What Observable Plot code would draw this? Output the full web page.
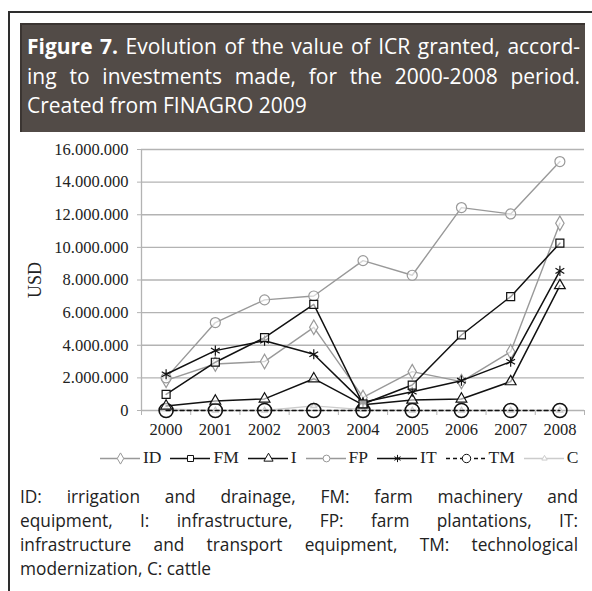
<!DOCTYPE html>
<html>
<head>
<meta charset="utf-8">
<script src="https://cdn.jsdelivr.net/npm/d3@7"></script>
<script src="https://cdn.jsdelivr.net/npm/@observablehq/plot@0.6"></script>
<style>
  html, body { margin: 0; padding: 0; background: #fff; }
  body { width: 592px; height: 591px; position: relative; overflow: hidden; }
  .frameTop { position: absolute; left: 8px; top: 11px; width: 584px; height: 2px; background: #2e2e2e; }
  .frameLeft { position: absolute; left: 8px; top: 11px; width: 2px; height: 580px; background: #2e2e2e; }
  .titlebox { position: absolute; left: 20px; top: 23px; width: 565px; height: 109px; background: #524b47;
    border-top: 2px solid #3b3532; border-left: 2px solid #3b3532; box-sizing: border-box;
    color: #fff; font-family: "Open Sans", sans-serif; font-size: 21px; line-height: 29.5px; padding: 7px 5px 0 5px; }
  .jl { text-align: justify; text-align-last: justify; white-space: nowrap; }
  .titlebox .l { white-space: nowrap; }
  .caption { position: absolute; left: 20px; top: 485px; width: 558px; color: #222;
    font-family: "Open Sans", sans-serif; font-size: 17.3px; line-height: 24px; }
  .usd { position: absolute; left: 35px; top: 280px; transform: translate(-50%, -50%) rotate(-90deg);
    font-family: "Liberation Serif", serif; font-size: 18px; color: #222; }
  #chart { position: absolute; left: 0; top: 140px; }
  #chart svg text { font-family: "Liberation Serif", serif; }
  #legend { position: absolute; left: 100px; top: 447px; display: flex; align-items: center;
    font-family: "Liberation Serif", serif; font-size: 17.5px; color: #222; white-space: nowrap; }
  #legend .item { display: flex; align-items: center; margin-right: 9px; }
  #legend svg { margin-right: 3px; }
</style>
</head>
<body>
<div class="frameTop"></div>
<div class="frameLeft"></div>
<div class="titlebox">
  <div class="jl"><b>Figure 7.</b> Evolution of the value of ICR granted, accord-</div>
  <div class="jl">ing to investments made, for the 2000-2008 period.</div>
  <div class="l">Created from FINAGRO 2009</div>
</div>
<div id="chart"></div>
<div class="usd">USD</div>
<div id="legend"></div>
<div class="caption">
  <div class="jl">ID: irrigation and drainage, FM: farm machinery and</div>
  <div class="jl">equipment, I: infrastructure, FP: farm plantations, IT:</div>
  <div class="jl">infrastructure and transport equipment, TM: technological</div>
  <div>modernization, C: cattle</div>
</div>
<script>
// ---- data ----
const years = [2000, 2001, 2002, 2003, 2004, 2005, 2006, 2007, 2008];
const seriesNames = ["ID", "FM", "I", "FP", "IT", "TM", "C"];
const ID = [1850000, 2850000, 3000000, 5100000, 800000, 2380000, 1770000, 3600000, 11480000];
const FM = [990000, 2960000, 4470000, 6510000, 400000, 1560000, 4630000, 6980000, 10260000];
const I  = [280000, 580000, 710000, 1950000, 350000, 640000, 710000, 1770000, 7660000];
const FP = [2000000, 5390000, 6780000, 7020000, 9190000, 8290000, 12440000, 12050000, 15260000];
const IT = [2220000, 3670000, 4280000, 3450000, 500000, 1150000, 1830000, 2990000, 8560000];
const TM = [0, 0, 0, 0, 0, 0, 0, 0, 0];
const C  = [100000, 0, 0, 280000, 50000, 0, 0, 0, 0];
const yTicks = [0, 2000000, 4000000, 6000000, 8000000, 10000000, 12000000, 14000000, 16000000];
const xBoundaries = [1999.5, 2000.5, 2001.5, 2002.5, 2003.5, 2004.5, 2005.5, 2006.5, 2007.5, 2008.5];

// ---- styles ----
const styles = {
  C:  {stroke: "#cccccc", width: 1.3, dash: null, symbol: "triangle", r: 2.2},
  TM: {stroke: "#111111", width: 1.4, dash: "4,3", symbol: "circle", r: 7},
  ID: {stroke: "#999999", width: 1.4, dash: null, symbol: "diamond", r: 4.4},
  FP: {stroke: "#999999", width: 1.4, dash: null, symbol: "circle", r: 5},
  I:  {stroke: "#111111", width: 1.5, dash: null, symbol: "triangle", r: 4},
  IT: {stroke: "#111111", width: 1.5, dash: null, symbol: "asterisk", r: 4.8},
  FM: {stroke: "#111111", width: 1.5, dash: null, symbol: "square", r: 4.5}
};
const valuesBy = {ID, FM, I, FP, IT, TM, C};
const drawOrder = ["C", "TM", "ID", "FP", "I", "IT", "FM"];
const rows = drawOrder.flatMap(s => years.map((y, i) => ({series: s, year: y, value: valuesBy[s][i]})));

const locale = d3.formatLocale({decimal: ",", thousands: ".", grouping: [3], currency: ["", ""]});
const fmt = locale.format(",");

const marks = [
  Plot.ruleY(yTicks, {stroke: "#b3b3b3", strokeWidth: 1.3}),
  Plot.ruleX([1999.5], {y1: 0, y2: 16000000, stroke: "#b3b3b3", strokeWidth: 1.3}),
  Plot.axisY({ticks: yTicks, tickFormat: fmt, tickSize: 4, tickPadding: 9, label: null,
    fontSize: 16.5, fontFamily: "Liberation Serif", stroke: "#b3b3b3", fill: "#222"}),
  Plot.axisX({ticks: xBoundaries, tickSize: 5, tickFormat: () => "", label: null, stroke: "#b3b3b3"}),
  Plot.axisX({ticks: years, tickSize: 0, tickPadding: 13, tickFormat: d => String(d), label: null,
    fontSize: 16.5, fontFamily: "Liberation Serif", fill: "#222"})
];
for (const s of drawOrder) {
  const st = styles[s];
  const data = rows.filter(d => d.series === s);
  marks.push(Plot.line(data, {x: "year", y: "value", stroke: st.stroke, strokeWidth: st.width,
    strokeDasharray: st.dash || undefined}));
  marks.push(Plot.dot(data, {x: "year", y: "value", symbol: () => st.symbol, r: st.r,
    stroke: st.stroke, strokeWidth: s === "TM" ? 1.6 : 1.2, fill: s === "TM" ? "none" : "white",
    fillOpacity: s === "TM" ? 0 : 0.6}));
}

const chart = Plot.plot({
  width: 592, height: 300,
  marginLeft: 141, marginRight: 8, marginTop: 9, marginBottom: 30,
  x: {type: "linear", domain: [1999.5, 2008.5], axis: null},
  y: {domain: [0, 16000000], axis: null},
  symbol: {type: "identity"},
  style: {fontFamily: "Liberation Serif, serif", fontSize: "16.5px", color: "#222", background: "transparent"},
  marks
});
document.getElementById("chart").append(chart);

// ---- legend ----
const legend = document.getElementById("legend");
const legendOrder = ["ID", "FM", "I", "FP", "IT", "TM", "C"];
for (const s of legendOrder) {
  const st = styles[s];
  const item = document.createElement("div");
  item.className = "item";
  const sw = Plot.plot({
    width: 40, height: 16, margin: 0,
    x: {domain: [0, 1], axis: null}, y: {domain: [0, 1], axis: null},
    symbol: {type: "identity"},
    style: {background: "transparent", overflow: "visible"},
    marks: [
      Plot.ruleY([0.5], {x1: 0, x2: 1, stroke: st.stroke, strokeWidth: st.width, strokeDasharray: st.dash || undefined}),
      Plot.dot([{x: 0.5, y: 0.5}], {x: "x", y: "y", symbol: () => st.symbol,
        r: s === "TM" ? 4.2 : (s === "C" ? 2 : 3.4), stroke: st.stroke, strokeWidth: 1, fill: "white"})
    ]
  });
  item.append(sw);
  const lab = document.createElement("span");
  lab.textContent = s;
  item.append(lab);
  legend.append(item);
}
</script>
</body>
</html>
